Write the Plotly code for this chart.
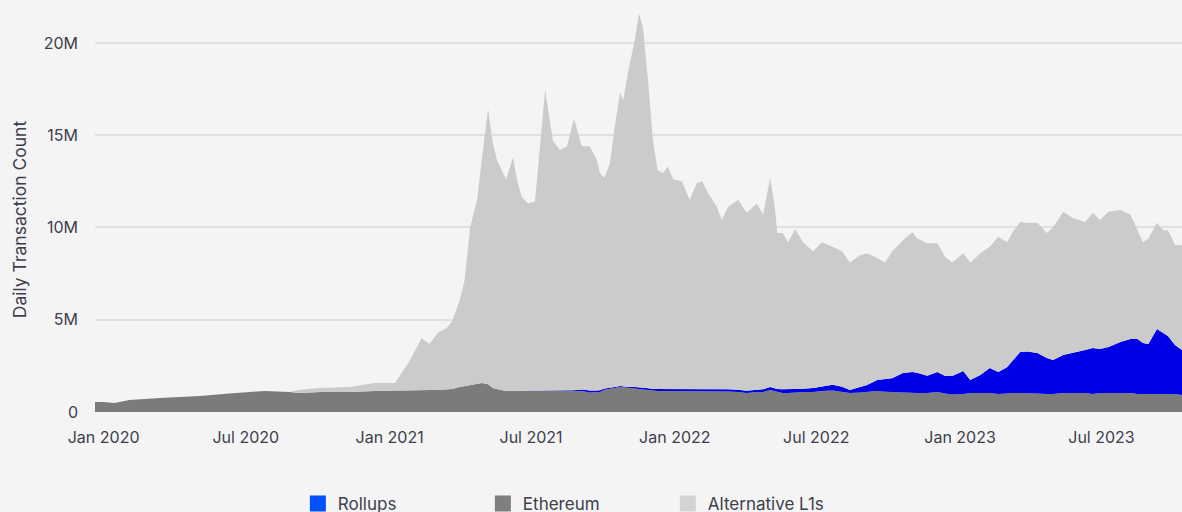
import plotly.graph_objects as go

dates = [
    "2019-12-21", "2020-01-01", "2020-01-15", "2020-02-03", "2020-03-13", "2020-05-03",
    "2020-06-10", "2020-07-25", "2020-08-26", "2020-09-08", "2020-10-04", "2020-11-11",
    "2020-12-13", "2021-01-08", "2021-01-27", "2021-02-11", "2021-02-21", "2021-03-04",
    "2021-03-15", "2021-03-22", "2021-04-01", "2021-04-07", "2021-04-14", "2021-04-23",
    "2021-04-29", "2021-05-07", "2021-05-13", "2021-05-18", "2021-05-30", "2021-06-08",
    "2021-06-13", "2021-06-19", "2021-06-27", "2021-07-06", "2021-07-12", "2021-07-19",
    "2021-07-29", "2021-08-07", "2021-08-16", "2021-08-25", "2021-09-04", "2021-09-14",
    "2021-09-23", "2021-09-27", "2021-10-03", "2021-10-10", "2021-10-16", "2021-10-23",
    "2021-10-27", "2021-11-02", "2021-11-11", "2021-11-16", "2021-11-21", "2021-11-28",
    "2021-12-04", "2021-12-10", "2021-12-17", "2021-12-23", "2021-12-30", "2022-01-10",
    "2022-01-20", "2022-01-29", "2022-02-05", "2022-02-12", "2022-02-24", "2022-03-02",
    "2022-03-10", "2022-03-23", "2022-04-03", "2022-04-16", "2022-04-24", "2022-05-03",
    "2022-05-09", "2022-05-12", "2022-05-19", "2022-05-26", "2022-06-04", "2022-06-14",
    "2022-06-27", "2022-07-08", "2022-07-22", "2022-08-03", "2022-08-13", "2022-08-26",
    "2022-09-04", "2022-09-17", "2022-09-27", "2022-10-06", "2022-10-20", "2022-11-01",
    "2022-11-07", "2022-11-20", "2022-12-03", "2022-12-13", "2022-12-22", "2023-01-05",
    "2023-01-14", "2023-01-27", "2023-02-08", "2023-02-19", "2023-03-02", "2023-03-10",
    "2023-03-19", "2023-03-28", "2023-04-10", "2023-04-22", "2023-04-30", "2023-05-13",
    "2023-05-26", "2023-06-10", "2023-06-20", "2023-06-29", "2023-07-10", "2023-07-25",
    "2023-08-07", "2023-08-16", "2023-08-23", "2023-08-30", "2023-09-10", "2023-09-18",
    "2023-09-24", "2023-10-03", "2023-10-12",
]

# Daily transactions, millions
ethereum = [
    0.54, 0.54, 0.49, 0.65, 0.76, 0.87, 1.00, 1.14, 1.08, 1.03, 1.08, 1.08,
    1.14, 1.17, 1.17, 1.19, 1.19, 1.19, 1.25, 1.25, 1.36, 1.40, 1.46, 1.52,
    1.57, 1.50, 1.30, 1.25, 1.14, 1.14, 1.14, 1.14, 1.14, 1.14, 1.14, 1.14,
    1.14, 1.14, 1.14, 1.16, 1.14, 1.06, 1.06, 1.08, 1.20, 1.25, 1.30, 1.36,
    1.34, 1.30, 1.28, 1.25, 1.22, 1.19, 1.14, 1.14, 1.14, 1.14, 1.14, 1.14,
    1.14, 1.14, 1.14, 1.14, 1.11, 1.11, 1.11, 1.08, 1.03, 1.08, 1.08, 1.19,
    1.14, 1.08, 1.03, 1.03, 1.06, 1.08, 1.08, 1.14, 1.17, 1.10, 1.03, 1.06,
    1.08, 1.14, 1.10, 1.08, 1.06, 1.03, 1.03, 1.03, 1.08, 1.00, 0.95, 0.98,
    1.03, 1.03, 1.03, 0.98, 1.03, 1.03, 1.03, 1.03, 1.00, 0.98, 0.98, 1.03,
    1.03, 1.03, 0.98, 1.03, 1.03, 1.03, 1.03, 0.98, 0.98, 0.98, 0.98, 0.98,
    0.98, 0.98, 0.92,
]

rollups = [
    0, 0, 0, 0, 0, 0, 0, 0, 0, 0, 0, 0,
    0, 0, 0, 0, 0, 0, 0, 0, 0, 0, 0, 0,
    0, 0, 0, 0, 0, 0, 0, 0, 0, 0, 0, 0,
    0, 0, 0, 0.02, 0.08, 0.10, 0.10, 0.10, 0.08, 0.06, 0.06, 0.05,
    0.05, 0.06, 0.08, 0.10, 0.10, 0.10, 0.10, 0.10, 0.10, 0.10, 0.10, 0.10,
    0.12, 0.12, 0.12, 0.12, 0.12, 0.12, 0.12, 0.12, 0.12, 0.12, 0.15, 0.16,
    0.16, 0.16, 0.20, 0.20, 0.18, 0.18, 0.22, 0.25, 0.30, 0.27, 0.16, 0.30,
    0.38, 0.60, 0.70, 0.75, 1.05, 1.14, 1.10, 0.93, 1.09, 0.95, 1.00, 1.24,
    0.70, 0.97, 1.35, 1.19, 1.40, 1.79, 2.22, 2.25, 2.20, 1.95, 1.84, 2.06,
    2.17, 2.33, 2.49, 2.38, 2.49, 2.76, 2.93, 2.98, 2.76, 2.71, 3.52, 3.30,
    3.14, 2.65, 2.44,
]

alternative_l1s = [
    0, 0, 0, 0, 0, 0, 0, 0, 0, 0.18, 0.22, 0.28,
    0.43, 0.40, 1.63, 2.81, 2.51, 3.11, 3.30, 3.65, 4.74, 5.75, 8.54, 9.98,
    12.13, 14.90, 13.30, 12.45, 11.46, 12.66, 11.46, 10.51, 10.16, 10.26, 13.06, 16.31,
    13.56, 13.06, 13.26, 14.72, 13.18, 13.24, 12.54, 11.77, 11.42, 12.19, 14.09, 15.89,
    15.51, 17.04, 18.84, 20.25, 19.58, 16.51, 13.46, 11.86, 11.71, 12.06, 11.36, 11.26,
    10.24, 11.14, 11.24, 10.64, 9.87, 9.17, 9.87, 10.30, 9.65, 10.10, 9.47, 11.35,
    9.80, 8.46, 8.47, 7.97, 8.66, 7.94, 7.40, 7.81, 7.48, 7.33, 6.91, 7.14,
    7.14, 6.61, 6.30, 6.87, 7.19, 7.58, 7.27, 7.19, 6.98, 6.45, 6.15, 6.38,
    6.37, 6.60, 6.57, 7.33, 6.77, 6.98, 7.05, 6.97, 7.05, 6.77, 7.18, 7.76,
    7.30, 6.94, 7.33, 6.99, 7.33, 7.16, 6.74, 5.89, 5.46, 5.71, 5.75, 5.57,
    5.73, 5.42, 5.69,
]

y_tick_vals = [0, 5, 10, 15, 20]
y_tick_text = ["0", "5M", "10M", "15M", "20M"]
y_title = "Daily Transaction Count"

legend_names = ["Rollups", "Ethereum", "Alternative L1s"]
legend_colors = ["#0052ff", "#7f7f7f", "#d4d4d4"]

FONT = "Inter, 'Noto Sans', sans-serif"
TEXT = "#3d404c"

fig = go.Figure()

for name, vals, col in [
    ("Ethereum", ethereum, "#7b7b7b"),
    ("Rollups", rollups, "#0000e6"),
    ("Alternative L1s", alternative_l1s, "#cbcbcb"),
]:
    fig.add_trace(go.Scatter(
        x=dates, y=vals, name=name, mode="lines", stackgroup="one",
        line=dict(width=0, color=col), fillcolor=col,
        showlegend=False, hoverinfo="skip",
    ))

for name, col in zip(legend_names, legend_colors):
    fig.add_trace(go.Scatter(
        x=[None], y=[None], name=name, mode="markers",
        marker=dict(symbol="square", size=16, color=col),
        showlegend=True,
    ))

fig.add_annotation(
    text=y_title, xref="paper", yref="paper",
    x=-0.0699, y=0.475, xanchor="center", yanchor="middle",
    textangle=-90, showarrow=False,
    font=dict(family=FONT, size=17.5, color=TEXT),
)

fig.update_layout(
    width=1182, height=512,
    margin=dict(l=95, r=0, t=6, b=100),
    paper_bgcolor="#f4f4f4", plot_bgcolor="#f4f4f4",
    font=dict(family=FONT, size=16, color=TEXT),
    showlegend=True,
    legend=dict(
        orientation="h", xref="container", yref="container",
        x=0.252, xanchor="left", y=0.051, yanchor="top",
        entrywidth=140, entrywidthmode="pixels", traceorder="normal",
        font=dict(family=FONT, size=17, color=TEXT),
        bgcolor="rgba(0,0,0,0)",
    ),
    xaxis=dict(
        type="date", range=["2019-12-21", "2023-10-12"],
        tick0="2020-01-01", dtick="M6", tickformat="%b %Y",
        showgrid=False, zeroline=False, showline=False,
        ticks="", ticklabelstandoff=14,
        tickfont=dict(family=FONT, size=16, color=TEXT),
    ),
    yaxis=dict(
        range=[0, 22], tickvals=y_tick_vals, ticktext=y_tick_text,
        showgrid=True, gridcolor="#e0e0e0", gridwidth=1.5,
        zeroline=False, showline=False, ticks="", ticklabelstandoff=16,
        tickfont=dict(family=FONT, size=16, color=TEXT),
    ),
)

fig.write_html(
    "out.html",
    config={"displayModeBar": False},
    post_script="document.body.style.margin='0';document.body.style.overflow='hidden';document.body.style.background='#f4f4f4';",
)
